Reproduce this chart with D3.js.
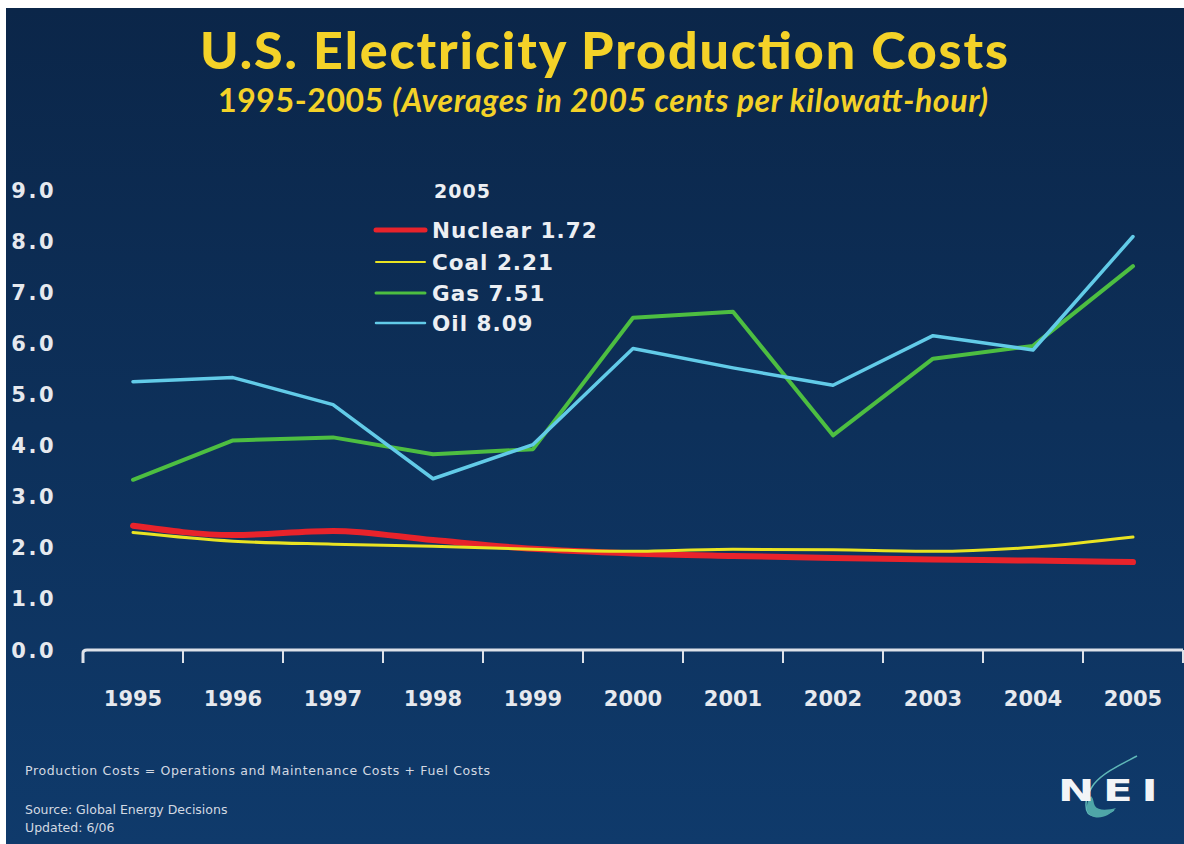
<!DOCTYPE html>
<html>
<head>
<meta charset="utf-8">
<script src="https://cdn.jsdelivr.net/npm/d3@7"></script>
<style>
  html, body { margin: 0; padding: 0; background: #fff; }
  svg { display: block; }
</style>
</head>
<body>
<svg width="1184" height="844"></svg>
<script>
/* chart data */
var years = ["1995", "1996", "1997", "1998", "1999", "2000", "2001", "2002", "2003", "2004", "2005"];
var nuclear = [2.43, 2.25, 2.33, 2.15, 1.98, 1.89, 1.84, 1.80, 1.77, 1.75, 1.72];
var coal    = [2.30, 2.13, 2.07, 2.03, 1.97, 1.93, 1.97, 1.96, 1.93, 2.01, 2.21];
var gas     = [3.33, 4.10, 4.16, 3.83, 3.93, 6.50, 6.62, 4.20, 5.70, 5.95, 7.51];
var oil     = [5.25, 5.33, 4.80, 3.35, 4.02, 5.90, 5.52, 5.18, 6.15, 5.87, 8.09];
var yTicks  = [0, 1, 2, 3, 4, 5, 6, 7, 8, 9];

var legendLabels = ["Nuclear 1.72", "Coal 2.21", "Gas 7.51", "Oil 8.09"];

var title = "U.S. Electricity Production Costs";
var subA = "1995-2005 ", subB = "(Averages in 2005 cents per kilowatt-hour)";
var note = "Production Costs = Operations and Maintenance Costs + Fuel Costs";
var source = "Source: Global Energy Decisions";
var updated = "Updated: 6/06";

var svg = d3.select("svg"),
    W = +svg.attr("width"),
    H = +svg.attr("height");

var series = [
  {name: "Nuclear", values: nuclear, color: "#e8232b", width: 6, curve: d3.curveMonotoneX},
  {name: "Coal",    values: coal,    color: "#e9e322", width: 3, curve: d3.curveMonotoneX},
  {name: "Gas",     values: gas,     color: "#4dbe41", width: 4, curve: d3.curveLinear},
  {name: "Oil",     values: oil,     color: "#62cbe8", width: 3.5, curve: d3.curveLinear}
];

// background
var defs = svg.append("defs");
var bg = defs.append("linearGradient").attr("id", "bg")
    .attr("x1", 0).attr("y1", 0).attr("x2", 0).attr("y2", 1);
bg.append("stop").attr("offset", "0%").attr("stop-color", "#0b2649");
bg.append("stop").attr("offset", "100%").attr("stop-color", "#0f3a6b");

svg.append("rect")
    .attr("x", 6).attr("y", 8)
    .attr("width", W - 6).attr("height", H - 8)
    .attr("fill", "url(#bg)");

// titles
svg.append("text")
    .attr("x", 200).attr("y", 69)
    .attr("textLength", 808)
    .attr("lengthAdjust", "spacing")
    .attr("fill", "#f4d228")
    .style("font-family", "Lato")
    .style("font-weight", 900)
    .style("font-size", "52px")
    .text(title);

var sub = svg.append("text")
    .attr("x", 218).attr("y", 112)
    .attr("textLength", 770)
    .attr("lengthAdjust", "spacing")
    .attr("fill", "#f4d228")
    .style("font-family", "Lato")
    .style("font-weight", 700)
    .style("font-size", "32px");
sub.append("tspan").text(subA);
sub.append("tspan").style("font-style", "italic").text(subB);

// scales
var x = d3.scaleBand().domain(years).range([83, 1183]);
var y = d3.scaleLinear().domain([0, 9]).range([650, 190]);

// y labels
svg.append("g").selectAll("text")
  .data(yTicks)
  .enter().append("text")
    .attr("x", 56)
    .attr("y", function(d) { return y(d); })
    .attr("dy", "0.36em")
    .attr("text-anchor", "end")
    .attr("fill", "#e6e9ee")
    .style("font-family", "DejaVu Sans")
    .style("font-weight", 700)
    .style("font-size", "21px")
    .style("letter-spacing", "2.5px")
    .text(function(d) { return d3.format(".1f")(d); });

// x axis: line with ticks between the years
var xAxis = d3.axisBottom(x).tickSize(0).tickPadding(0).tickFormat("");
var gx = svg.append("g")
    .attr("transform", "translate(0," + y(0) + ")")
    .call(xAxis);
gx.select(".domain").remove();

var bounds = years.map(function(d) { return x(d); }).concat([x.range()[1]]);
svg.append("path")
    .attr("d", "M" + bounds[0] + "," + (y(0) + 13) + "V" + (y(0) + 3) +
               "Q" + bounds[0] + "," + y(0) + " " + (bounds[0] + 4) + "," + y(0) +
               "H" + bounds[bounds.length - 1])
    .attr("fill", "none")
    .attr("stroke", "#dde2e9")
    .attr("stroke-width", 3);
svg.append("g").selectAll("line")
  .data(bounds.slice(1))
  .enter().append("line")
    .attr("x1", function(d) { return d; })
    .attr("x2", function(d) { return d; })
    .attr("y1", y(0))
    .attr("y2", y(0) + 13)
    .attr("stroke", "#dde2e9")
    .attr("stroke-width", 2);

svg.append("g").selectAll("text")
  .data(years)
  .enter().append("text")
    .attr("x", function(d) { return x(d) + x.bandwidth() / 2; })
    .attr("y", 706)
    .attr("text-anchor", "middle")
    .attr("fill", "#e6e9ee")
    .style("font-family", "DejaVu Sans")
    .style("font-weight", 700)
    .style("font-size", "21px")
    .text(function(d) { return d; });

// lines
var line = d3.line()
    .x(function(d, i) { return x(years[i]) + x.bandwidth() / 2; })
    .y(function(d) { return y(d); });

svg.append("g").selectAll("path")
  .data(series)
  .enter().append("path")
    .attr("d", function(s) { return line.curve(s.curve)(s.values); })
    .attr("fill", "none")
    .attr("stroke", function(s) { return s.color; })
    .attr("stroke-width", function(s) { return s.width; })
    .attr("stroke-linejoin", "round")
    .attr("stroke-linecap", "round");

// legend
var lg = svg.append("g");
lg.append("text")
    .attr("x", 434).attr("y", 198)
    .attr("fill", "#eceff3")
    .style("font-family", "DejaVu Sans")
    .style("font-weight", 700)
    .style("font-size", "19px")
    .style("letter-spacing", "1px")
    .text("2005");

var legendY = [230, 262, 293, 323];
var rows = lg.selectAll("g.row")
  .data(series)
  .enter().append("g")
    .attr("class", "row")
    .attr("transform", function(s, i) { return "translate(0," + legendY[i] + ")"; });
rows.append("line")
    .attr("x1", 376).attr("x2", 425)
    .attr("stroke", function(s) { return s.color; })
    .attr("stroke-width", function(s) { return s.name === "Coal" ? 2 : s.width - 1; })
    .attr("stroke-linecap", "round");
rows.append("text")
    .attr("x", 432)
    .attr("dy", "0.36em")
    .attr("fill", "#eceff3")
    .style("font-family", "DejaVu Sans")
    .style("font-weight", 700)
    .style("font-size", "21.5px")
    .style("letter-spacing", "1px")
    .text(function(s, i) { return legendLabels[i]; });

// footnotes
var foot = svg.append("g")
    .attr("fill", "#d3d9e2")
    .style("font-family", "DejaVu Sans")
    .style("font-size", "12.5px");
foot.append("text").attr("x", 25).attr("y", 775).attr("textLength", 465).text(note);
foot.append("text").attr("x", 25).attr("y", 814).text(source);
foot.append("text").attr("x", 25).attr("y", 832).text(updated);

// NEI logo
var logo = svg.append("g");
logo.append("path")
    .attr("d", "M1137,756 C1122,764 1104,772 1094,784 C1086,795 1084,806 1088,813 C1092,818 1104,816 1114,810")
    .attr("fill", "none")
    .attr("stroke", "#5fb8b8")
    .attr("stroke-width", 1.5);
logo.append("path")
    .attr("d", "M1091,796 C1085,804 1085,814 1094,817 C1102,819 1110,815 1116,808 C1108,810 1098,811 1095,806 C1093,802 1094,799 1091,796 Z")
    .attr("fill", "#4fa6a8");
logo.append("text")
    .attr("transform", "translate(1058,801) scale(1.45,1)")
    .attr("fill", "#f2f4f7")
    .style("font-family", "DejaVu Sans")
    .style("font-weight", 700)
    .style("font-size", "30px")
    .style("letter-spacing", "6px")
    .text("NEI");
</script>
</body>
</html>
